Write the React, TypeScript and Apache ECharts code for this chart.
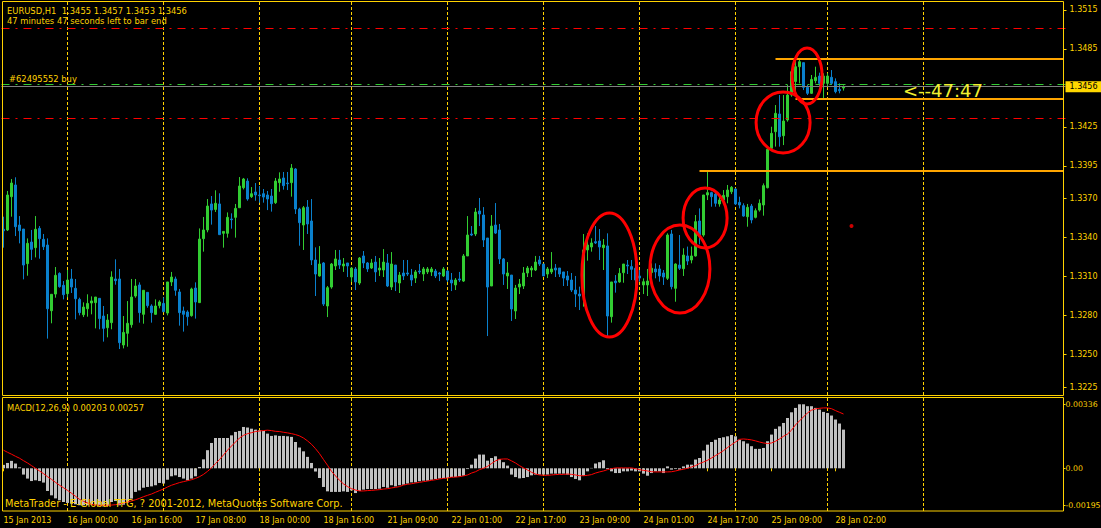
import React, { useEffect, useRef } from "react";
import * as echarts from "echarts";

// ---------- time axis ----------
const sessions = [
  { day: "15 Jan", first: 8, last: 23 },
  { day: "16 Jan", first: 0, last: 23 },
  { day: "17 Jan", first: 0, last: 23 },
  { day: "18 Jan", first: 0, last: 22 },
  { day: "21 Jan", first: 0, last: 23 },
  { day: "22 Jan", first: 0, last: 23 },
  { day: "23 Jan", first: 0, last: 23 },
  { day: "24 Jan", first: 0, last: 23 },
  { day: "25 Jan", first: 0, last: 22 },
  { day: "28 Jan", first: 0, last: 4 },
];
// empty slots of the chart shift (future hours)
const futureSessions = [
  { day: "28 Jan", first: 5, last: 23 },
  { day: "29 Jan", first: 0, last: 23 },
  { day: "30 Jan", first: 0, last: 11 },
];
const timeLabels = [
  "15 Jan 2013", "16 Jan 00:00", "16 Jan 16:00", "17 Jan 08:00", "18 Jan 00:00",
  "18 Jan 16:00", "21 Jan 09:00", "22 Jan 01:00", "22 Jan 17:00", "23 Jan 09:00",
  "24 Jan 01:00", "24 Jan 17:00", "25 Jan 09:00", "28 Jan 02:00",
];
const labelStep = 16;
const dayStartIdx = [16, 40, 64, 87, 111, 135, 159, 183, 206, 230];

// ---------- EURUSD H1 OHLC ----------
const opens = [
  1.33463, 1.33458, 1.33714, 1.33804, 1.33496, 1.33465, 1.33199, 1.33365, 1.33322, 1.33470,
  1.33386, 1.33342, 1.32837, 1.32965, 1.33124, 1.33032, 1.32968, 1.33081, 1.33009, 1.32924,
  1.32806, 1.32852, 1.32896, 1.32899, 1.32932, 1.32796, 1.32706, 1.32745, 1.33081, 1.33081,
  1.32573, 1.32663, 1.32729, 1.32950, 1.33035, 1.32809, 1.32978, 1.32873, 1.32809, 1.32876,
  1.32893, 1.32819, 1.33058, 1.33081, 1.32981, 1.32835, 1.32827, 1.32799, 1.33011, 1.32899,
  1.33391, 1.33458, 1.33658, 1.33616, 1.33658, 1.33432, 1.33432, 1.33542, 1.33555, 1.33629,
  1.33783, 1.33834, 1.33714, 1.33750, 1.33727, 1.33737, 1.33727, 1.33719, 1.33668, 1.33822,
  1.33858, 1.33819, 1.33822, 1.33927, 1.33619, 1.33496, 1.33634, 1.33527, 1.33227, 1.33104,
  1.33204, 1.32873, 1.33019, 1.33181, 1.33227, 1.33181, 1.33204, 1.33096, 1.33158, 1.33050,
  1.33258, 1.33204, 1.33165, 1.33211, 1.33150, 1.33150, 1.33204, 1.33019, 1.33188, 1.33050,
  1.33127, 1.33127, 1.33111, 1.33088, 1.33142, 1.33119, 1.33135, 1.33135, 1.33142, 1.33127,
  1.33104, 1.33142, 1.33073, 1.33035, 1.33081, 1.33065, 1.33258, 1.33427, 1.33427, 1.33604,
  1.33573, 1.33396, 1.33027, 1.33496, 1.33458, 1.33235, 1.33104, 1.33111, 1.32835, 1.33019,
  1.33027, 1.33127, 1.33150, 1.33150, 1.33227, 1.33196, 1.33119, 1.33135, 1.33165, 1.33165,
  1.33135, 1.33104, 1.33073, 1.32996, 1.32965, 1.32950, 1.33304, 1.33327, 1.33368, 1.33373,
  1.33322, 1.33335, 1.32791, 1.33065, 1.33058, 1.33129, 1.33188, 1.33176, 1.33163, 1.33104,
  1.33035, 1.33035, 1.33130, 1.33158, 1.33158, 1.33127, 1.33086, 1.33427, 1.33009, 1.33188,
  1.33160, 1.33258, 1.33227, 1.33258, 1.33527, 1.33419, 1.33727, 1.33745, 1.33734, 1.33658,
  1.33688, 1.33714, 1.33752, 1.33773, 1.33670, 1.33645, 1.33560, 1.33642, 1.33555, 1.33611,
  1.33650, 1.33783, 1.34086, 1.34214, 1.34350, 1.34183, 1.34304, 1.34496, 1.34600, 1.34714,
  1.34745, 1.34555, 1.34509, 1.34606, 1.34642, 1.34586, 1.34586, 1.34632, 1.34599, 1.34539,
  1.34550,
];
const highs = [
  1.33560, 1.33758, 1.33850, 1.33863, 1.33565, 1.33465, 1.33393, 1.33458, 1.33565, 1.33488,
  1.33427, 1.33393, 1.32963, 1.33173, 1.33132, 1.33065, 1.33150, 1.33158, 1.33081, 1.32937,
  1.32901, 1.32963, 1.32947, 1.32942, 1.32932, 1.32873, 1.32811, 1.33140, 1.33232, 1.33158,
  1.32796, 1.32911, 1.33081, 1.33081, 1.33055, 1.32994, 1.32978, 1.32886, 1.32924, 1.32917,
  1.32940, 1.33058, 1.33135, 1.33099, 1.33004, 1.32868, 1.32840, 1.33014, 1.33055, 1.33470,
  1.33558, 1.33696, 1.33719, 1.33763, 1.33740, 1.33447, 1.33593, 1.33586, 1.33658, 1.33865,
  1.33858, 1.33855, 1.33788, 1.33819, 1.33796, 1.33773, 1.33758, 1.33773, 1.33858, 1.33901,
  1.33904, 1.33904, 1.33965, 1.33934, 1.33629, 1.33642, 1.33688, 1.33696, 1.33324, 1.33334,
  1.33211, 1.33027, 1.33204, 1.33304, 1.33304, 1.33242, 1.33204, 1.33173, 1.33173, 1.33250,
  1.33296, 1.33211, 1.33235, 1.33258, 1.33242, 1.33311, 1.33273, 1.33288, 1.33188, 1.33135,
  1.33227, 1.33227, 1.33158, 1.33150, 1.33196, 1.33173, 1.33173, 1.33173, 1.33158, 1.33135,
  1.33173, 1.33150, 1.33127, 1.33088, 1.33135, 1.33273, 1.33565, 1.33488, 1.33627, 1.33704,
  1.33634, 1.33396, 1.33573, 1.33665, 1.33504, 1.33242, 1.33211, 1.33111, 1.33035, 1.33081,
  1.33173, 1.33181, 1.33181, 1.33258, 1.33258, 1.33196, 1.33173, 1.33288, 1.33196, 1.33165,
  1.33135, 1.33142, 1.33127, 1.33104, 1.33022, 1.33427, 1.33432, 1.33394, 1.33488, 1.33465,
  1.33388, 1.33432, 1.33058, 1.33111, 1.33165, 1.33196, 1.33227, 1.33227, 1.33201, 1.33150,
  1.33086, 1.33158, 1.33201, 1.33201, 1.33188, 1.33150, 1.33432, 1.33458, 1.33201, 1.33419,
  1.33317, 1.33330, 1.33330, 1.33573, 1.33624, 1.33727, 1.33919, 1.33752, 1.33752, 1.33714,
  1.33765, 1.33804, 1.33796, 1.33778, 1.33714, 1.33663, 1.33658, 1.33658, 1.33624, 1.33693,
  1.33816, 1.34099, 1.34252, 1.34419, 1.34496, 1.34496, 1.34573, 1.34688, 1.34765, 1.34778,
  1.34745, 1.34573, 1.34650, 1.34714, 1.34668, 1.34663, 1.34663, 1.34688, 1.34624, 1.34586,
  1.34570,
];
const lows = [
  1.33322, 1.33450, 1.33560, 1.33411, 1.33355, 1.33078, 1.33106, 1.33227, 1.33247, 1.33237,
  1.33304, 1.32622, 1.32740, 1.32937, 1.33014, 1.32924, 1.32940, 1.32973, 1.32770, 1.32801,
  1.32788, 1.32791, 1.32809, 1.32701, 1.32694, 1.32599, 1.32632, 1.32694, 1.33037, 1.32542,
  1.32547, 1.32560, 1.32706, 1.32937, 1.32745, 1.32737, 1.32860, 1.32745, 1.32806, 1.32855,
  1.32829, 1.32801, 1.33027, 1.32952, 1.32722, 1.32676, 1.32722, 1.32791, 1.32776, 1.32899,
  1.33291, 1.33440, 1.33499, 1.33596, 1.33422, 1.33322, 1.33399, 1.33468, 1.33399, 1.33629,
  1.33770, 1.33683, 1.33704, 1.33683, 1.33668, 1.33668, 1.33611, 1.33599, 1.33658, 1.33752,
  1.33768, 1.33765, 1.33714, 1.33581, 1.33337, 1.33304, 1.33427, 1.33188, 1.32950, 1.33099,
  1.32873, 1.32788, 1.33006, 1.33150, 1.33158, 1.33135, 1.33096, 1.33058, 1.32996, 1.33035,
  1.33165, 1.33135, 1.33158, 1.33058, 1.33104, 1.33096, 1.33019, 1.32996, 1.32988, 1.32973,
  1.33073, 1.33104, 1.33027, 1.33050, 1.33119, 1.33065, 1.33119, 1.33104, 1.33088, 1.33065,
  1.33096, 1.33058, 1.32988, 1.32996, 1.33058, 1.33058, 1.33258, 1.33411, 1.33411, 1.33488,
  1.33327, 1.32642, 1.33027, 1.33427, 1.33196, 1.33035, 1.33004, 1.32758, 1.32773, 1.32965,
  1.33004, 1.33096, 1.33096, 1.33142, 1.33181, 1.33104, 1.33088, 1.33119, 1.33096, 1.33096,
  1.33027, 1.33027, 1.32981, 1.32865, 1.32842, 1.32868, 1.33222, 1.33291, 1.33350, 1.33227,
  1.33150, 1.32642, 1.32745, 1.32976, 1.33052, 1.33052, 1.33119, 1.33073, 1.33001, 1.33060,
  1.32965, 1.32950, 1.33099, 1.33086, 1.33060, 1.33035, 1.33073, 1.33001, 1.32906, 1.33150,
  1.33104, 1.33188, 1.33201, 1.33253, 1.33347, 1.33406, 1.33688, 1.33637, 1.33637, 1.33637,
  1.33663, 1.33663, 1.33734, 1.33650, 1.33624, 1.33560, 1.33483, 1.33509, 1.33547, 1.33599,
  1.33568, 1.33778, 1.34073, 1.34099, 1.34099, 1.34111, 1.34291, 1.34483, 1.34509, 1.34586,
  1.34534, 1.34496, 1.34504, 1.34586, 1.34560, 1.34470, 1.34560, 1.34573, 1.34509, 1.34509,
  1.34530,
];
const closes = [
  1.33452, 1.33727, 1.33819, 1.33483, 1.33452, 1.33188, 1.33355, 1.33309, 1.33463, 1.33391,
  1.33329, 1.32852, 1.32963, 1.33109, 1.33022, 1.32960, 1.33073, 1.33019, 1.32929, 1.32822,
  1.32865, 1.32893, 1.32912, 1.32942, 1.32776, 1.32701, 1.32765, 1.33096, 1.33068, 1.32591,
  1.32670, 1.32740, 1.32942, 1.33027, 1.32822, 1.32994, 1.32876, 1.32822, 1.32873, 1.32904,
  1.32829, 1.33058, 1.33096, 1.32994, 1.32822, 1.32809, 1.32791, 1.33004, 1.32904, 1.33388,
  1.33458, 1.33642, 1.33611, 1.33663, 1.33422, 1.33447, 1.33555, 1.33537, 1.33624, 1.33796,
  1.33850, 1.33696, 1.33737, 1.33727, 1.33722, 1.33711, 1.33696, 1.33660, 1.33834, 1.33850,
  1.33799, 1.33814, 1.33934, 1.33619, 1.33514, 1.33629, 1.33504, 1.33227, 1.33119, 1.33196,
  1.32888, 1.33014, 1.33196, 1.33235, 1.33188, 1.33196, 1.33181, 1.33165, 1.33058, 1.33242,
  1.33204, 1.33158, 1.33204, 1.33135, 1.33165, 1.33211, 1.33027, 1.33196, 1.33058, 1.33111,
  1.33104, 1.33119, 1.33073, 1.33135, 1.33135, 1.33158, 1.33158, 1.33158, 1.33104, 1.33119,
  1.33158, 1.33073, 1.33050, 1.33073, 1.33073, 1.33258, 1.33419, 1.33419, 1.33596, 1.33581,
  1.33381, 1.33019, 1.33488, 1.33434, 1.33235, 1.33119, 1.33127, 1.32850, 1.33011, 1.33042,
  1.33127, 1.33165, 1.33165, 1.33211, 1.33196, 1.33104, 1.33158, 1.33158, 1.33150, 1.33119,
  1.33088, 1.33073, 1.32996, 1.32965, 1.32950, 1.33304, 1.33342, 1.33358, 1.33358, 1.33327,
  1.33342, 1.32796, 1.33058, 1.33052, 1.33124, 1.33196, 1.33181, 1.33155, 1.33073, 1.33088,
  1.33060, 1.33065, 1.33163, 1.33135, 1.33104, 1.33096, 1.33419, 1.33022, 1.33196, 1.33163,
  1.33265, 1.33219, 1.33258, 1.33522, 1.33419, 1.33727, 1.33745, 1.33714, 1.33663, 1.33688,
  1.33724, 1.33765, 1.33786, 1.33658, 1.33650, 1.33565, 1.33632, 1.33535, 1.33606, 1.33663,
  1.33799, 1.34078, 1.34201, 1.34355, 1.34175, 1.34296, 1.34496, 1.34675, 1.34714, 1.34752,
  1.34555, 1.34509, 1.34616, 1.34632, 1.34586, 1.34642, 1.34642, 1.34586, 1.34522, 1.34529,
  1.34560,
];

// ---------- MACD(12,26,9) ----------
const macdMain = [
  0.00018, 0.00028, 0.00039, 0.00025, 0.00005, -0.00033, -0.00054, -0.00067, -0.00063, -0.00067,
  -0.00075, -0.00119, -0.00142, -0.00158, -0.00168, -0.00177, -0.00182, -0.00186, -0.00189, -0.00194,
  -0.00194, -0.00194, -0.00191, -0.00191, -0.00194, -0.002, -0.00198, -0.00177, -0.00172, -0.00194,
  -0.00191, -0.0018, -0.00159, -0.00124, -0.00116, -0.00102, -0.00098, -0.00095, -0.00089, -0.00077,
  -0.0008, -0.0006, -0.00042, -0.00037, -0.00046, -0.00054, -0.00063, -0.00054, -0.00042, 0.00007,
  0.00047, 0.00095, 0.00133, 0.00159, 0.00159, 0.00159, 0.00159, 0.00173, 0.00191, 0.00196,
  0.00217, 0.00214, 0.00208, 0.00203, 0.002, 0.00196, 0.00182, 0.0017, 0.00173, 0.0017,
  0.0017, 0.00168, 0.00165, 0.00138, 0.00109, 0.00089, 0.0006, 0.00028, -0.00017, -0.00051,
  -0.00098, -0.00121, -0.00124, -0.00124, -0.00124, -0.00121, -0.00124, -0.00116, -0.0013, -0.00119,
  -0.00112, -0.00109, -0.00109, -0.00109, -0.00107, -0.00098, -0.00102, -0.00089, -0.00095, -0.00089,
  -0.00086, -0.0008, -0.00074, -0.00074, -0.00068, -0.00065, -0.00065, -0.0006, -0.00056, -0.00054,
  -0.00051, -0.00051, -0.00046, -0.00046, -0.00042, -0.00039, -0.00004, 0.00019, 0.00051, 0.00072,
  0.00072, 0.0004, 0.00054, 0.00063, 0.00049, 0.00032, 0.00014, -0.00033, -0.00046, -0.00053,
  -0.00051, -0.00046, -0.00037, -0.00033, -0.00033, -0.00033, -0.00033, -0.00028, -0.00028, -0.00028,
  -0.00028, -0.00033, -0.00046, -0.00056, -0.00063, -0.00039, -0.00016, 0.00002, 0.00025, 0.00032,
  0.00042, -0.00004, -0.00016, -0.00025, -0.00025, -0.00016, -0.00016, -0.00012, -0.00016, -0.00016,
  -0.00028, -0.00039, -0.00025, -0.00016, -0.00016, -0.00025, 0.0001, -0.00007, -0.00004, -0.00007,
  0.0001, 0.00019, 0.00019, 0.00046, 0.00054, 0.00093, 0.00124, 0.00138, 0.0015, 0.00159,
  0.00163, 0.00168, 0.00175, 0.00168, 0.0015, 0.00142, 0.0013, 0.00116, 0.00102, 0.00102,
  0.00107, 0.00142, 0.00177, 0.00207, 0.0022, 0.00238, 0.00264, 0.00294, 0.00317, 0.00336,
  0.00336, 0.00326, 0.00326, 0.00317, 0.00308, 0.00296, 0.0029, 0.00277, 0.00256, 0.00235,
  0.00203,
];
const macdSignal = [
  0.00095, 0.00084, 0.00074, 0.00063, 0.00053, 0.0004, 0.00028, 0.00014, 0, -0.00014,
  -0.00028, -0.00044, -0.00058, -0.00074, -0.00089, -0.00102, -0.00116, -0.00131, -0.00147, -0.00163,
  -0.00173, -0.00182, -0.00189, -0.00193, -0.00194, -0.00194, -0.00194, -0.00193, -0.00191, -0.00187,
  -0.00182, -0.00177, -0.00172, -0.00165, -0.00158, -0.00149, -0.00142, -0.00135, -0.00126, -0.00117,
  -0.00109, -0.00098, -0.00089, -0.00082, -0.00075, -0.0007, -0.00065, -0.0006, -0.00053, -0.00044,
  -0.00032, -0.00016, 0.00002, 0.00025, 0.00046, 0.0007, 0.00095, 0.00117, 0.00138, 0.00159,
  0.00173, 0.00182, 0.00187, 0.00193, 0.00196, 0.00198, 0.002, 0.00198, 0.00194, 0.00193,
  0.00189, 0.00186, 0.00182, 0.00177, 0.0017, 0.00159, 0.00144, 0.00126, 0.00103, 0.00077,
  0.00046, 0.00016, -0.00016, -0.0004, -0.00063, -0.00082, -0.00096, -0.00107, -0.00114, -0.00119,
  -0.00119, -0.00117, -0.00116, -0.00114, -0.00112, -0.00109, -0.00107, -0.00103, -0.001, -0.00096,
  -0.00088, -0.00084, -0.00081, -0.00077, -0.00074, -0.0007, -0.00067, -0.00063, -0.0006, -0.00056,
  -0.00053, -0.00051, -0.00047, -0.00046, -0.00044, -0.0004, -0.00035, -0.00025, -0.00018, -0.00007,
  0, 0.0001, 0.00025, 0.00039, 0.00047, 0.00049, 0.00049, 0.00039, 0.00028, 0.00014,
  0.00002, -0.00009, -0.00021, -0.0003, -0.00035, -0.00037, -0.00037, -0.00035, -0.00033, -0.00032,
  -0.00032, -0.0003, -0.00032, -0.00035, -0.00039, -0.00039, -0.00037, -0.00033, -0.00025, -0.00019,
  -0.00014, -0.00007, -0.00002, 0.00002, 0.00002, 0.00002, 0.00002, 0.00002, -0.00002, -0.00007,
  -0.00011, -0.00014, -0.00018, -0.00019, -0.00019, -0.00019, -0.00019, -0.00018, -0.00014, -0.00009,
  -0.00005, 0, 0.00007, 0.00014, 0.00025, 0.00033, 0.00042, 0.00054, 0.00067, 0.00079,
  0.00093, 0.00109, 0.00124, 0.00138, 0.00152, 0.00154, 0.00152, 0.00149, 0.00144, 0.00138,
  0.00133, 0.0013, 0.00133, 0.00142, 0.00154, 0.00168, 0.0018, 0.002, 0.00228, 0.00249,
  0.0027, 0.00291, 0.00305, 0.00312, 0.00315, 0.00317, 0.00317, 0.00313, 0.00303, 0.00294,
  0.00285,
];

// ---------- axis ticks ----------
const priceTicks = [1.3515, 1.3485, 1.3425, 1.3395, 1.337, 1.334, 1.331, 1.328, 1.325, 1.3225];
const macdTicks = [0.00336, 0, -0.00195];
const priceMin = 1.321885;
const priceMax = 1.352115;
const macdMin = -0.002242;
const macdMax = 0.003743;

// ---------- chart objects ----------
const redLevels = [1.35008, 1.34317];
const orderLevel = 1.34578;
const bidPrice = 1.3456;
const orangeLevels = [
  { fromBar: 174, price: 1.33912 },
  { fromBar: 193, price: 1.34773 },
  { fromBar: 198, price: 1.34468 },
];
const lastSlot = 265;
const ellipses = [
  { bar: 151.5, price: 1.33112, halfBars: 6.9, halfPrice: 0.00477 },
  { bar: 169.1, price: 1.33158, halfBars: 7.5, halfPrice: 0.00338 },
  { bar: 175.4, price: 1.3355, halfBars: 5.5, halfPrice: 0.00231 },
  { bar: 194.9, price: 1.34285, halfBars: 6.75, halfPrice: 0.00235 },
  { bar: 200.9, price: 1.34642, halfBars: 3.75, halfPrice: 0.00215 },
];
const redDot = [212, 1.33488];

const FG = "#FFD200";
const FONT = '"DejaVu Sans", sans-serif';
const BULL = "#32CD32";
const BEAR = "#0A80CC";

function buildCategories() {
  const out: string[] = [];
  const pad = (h: number) => (h < 10 ? "0" + h : "" + h) + ":00";
  for (const s of [...sessions, ...futureSessions]) {
    for (let h = s.first; h <= s.last; h++) out.push(s.day + " " + pad(h));
  }
  return out;
}

export default function App() {
  const ref = useRef<HTMLDivElement>(null);
  useEffect(() => {
    document.body.style.margin = "0";
    document.body.style.background = "#000";
    const chart = echarts.init(ref.current!, null, { renderer: "svg", width: 1101, height: 528 });
    const categories = buildCategories();
    const isLabel = (i: number) => i % labelStep === 0 && i / labelStep < timeLabels.length;
    const dashDot = [8, 6, 2, 6];

    const texts: any[] = [
      { type: "text", id: "t1", x: 7, y: 10.5, z: 20, style: { text: "EURUSD,H1  1.3455 1.3457 1.3453 1.3456", fill: FG, font: '8.4px "DejaVu Sans"', verticalAlign: "middle", textVerticalAlign: "middle" } },
      { type: "text", id: "t2", x: 7, y: 20.5, z: 20, style: { text: "47 minutes 47 seconds left to bar end", fill: FG, font: '8.4px "DejaVu Sans"', verticalAlign: "middle", textVerticalAlign: "middle" } },
      { type: "text", id: "t3", x: 9, y: 78.5, z: 20, style: { text: "#62495552 buy", fill: FG, font: '8.4px "DejaVu Sans"', verticalAlign: "middle", textVerticalAlign: "middle" } },
      { type: "text", id: "t4", x: 903, y: 90.5, z: 20, style: { text: "<--47:47", fill: "#F0F030", font: '18px "DejaVu Sans"', verticalAlign: "middle", textVerticalAlign: "middle" } },
      { type: "text", id: "t5", x: 7, y: 407.5, z: 20, style: { text: "MACD(12,26,9) 0.00203 0.00257", fill: FG, font: '8.3px "DejaVu Sans"', verticalAlign: "middle", textVerticalAlign: "middle" } },
      { type: "text", id: "t6", x: 5, y: 503.5, z: 20, style: { text: "MetaTrader - E-Global TFG, ? 2001-2012, MetaQuotes Software Corp.", fill: FG, font: '9.8px "DejaVu Sans"', verticalAlign: "middle", textVerticalAlign: "middle" } },
      { type: "rect", id: "f1", z: 15, shape: { x: 2.5, y: 1.5, width: 1061, height: 394 }, style: { fill: "none", stroke: FG, lineWidth: 1 } },
      { type: "rect", id: "f2", z: 15, shape: { x: 2.5, y: 397.5, width: 1061, height: 113.5 }, style: { fill: "none", stroke: FG, lineWidth: 1 } },
    ];

    const hLine = (price: number, color: string, type: any, width = 1) => ({ yAxis: price, lineStyle: { color, type, width } });

    const option: any = {
      animation: false,
      backgroundColor: "#000000",
      grid: [
        { left: 1.5, top: 2, width: 1064, height: 393, containLabel: false, outerBoundsMode: "none" },
        { left: 1.5, top: 397, width: 1064, height: 114, containLabel: false, outerBoundsMode: "none" },
      ],
      xAxis: [
        {
          type: "category", gridIndex: 0, data: categories, boundaryGap: true,
          axisLine: { show: false }, axisTick: { show: false }, axisLabel: { show: false }, splitLine: { show: false },
        },
        {
          type: "category", gridIndex: 1, data: categories, boundaryGap: true,
          axisLine: { show: false }, splitLine: { show: false },
          axisTick: { show: true, alignWithLabel: true, interval: (i: number) => isLabel(i), length: 3, lineStyle: { color: FG } },
          axisLabel: {
            show: true, interval: (i: number) => isLabel(i),
            formatter: (_v: string, i: number) => timeLabels[i / labelStep] ?? "",
            align: "left", color: FG, fontSize: 8, fontFamily: FONT, margin: 5,
          },
        },
      ],
      yAxis: [
        {
          type: "value", gridIndex: 0, position: "right", offset: -2, min: priceMin, max: priceMax,
          axisLine: { show: false }, splitLine: { show: false },
          axisTick: { show: true, customValues: priceTicks, length: 3, lineStyle: { color: FG } },
          axisLabel: { customValues: priceTicks, formatter: (v: number) => v.toFixed(4), color: FG, fontSize: 8, fontFamily: FONT, margin: 6 },
        },
        {
          type: "value", gridIndex: 1, position: "right", offset: -2, min: macdMin, max: macdMax,
          axisLine: { show: false }, splitLine: { show: false },
          axisTick: { show: true, customValues: macdTicks, length: 2, lineStyle: { color: FG } },
          axisLabel: { customValues: macdTicks, formatter: (v: number) => (v === 0 ? "0.00" : v.toFixed(5)), color: FG, fontSize: 7.8, fontFamily: FONT, margin: 2 },
        },
      ],
      series: [
        {
          type: "line", xAxisIndex: 0, yAxisIndex: 0, data: [], silent: true,
          markLine: {
            z: 1, silent: true, symbol: ["none", "none"], label: { show: false }, animation: false,
            lineStyle: { color: FG, type: [3, 2], width: 1 },
            data: dayStartIdx.map((i) => ({ xAxis: i })),
          },
        },
        {
          type: "candlestick", xAxisIndex: 0, yAxisIndex: 0, barWidth: 2,
          data: opens.map((o, i) => [o, closes[i], lows[i], highs[i]]),
          itemStyle: { color: BULL, color0: BEAR, borderColor: BULL, borderColor0: BEAR, borderWidth: 1 },
          markLine: {
            silent: true, symbol: ["none", "none"], label: { show: false }, animation: false, precision: 6,
            data: [
              hLine(redLevels[0], "#FF0000", dashDot),
              hLine(redLevels[1], "#FF0000", dashDot),
              hLine(orderLevel, "#32CD32", dashDot),
              {
                ...hLine(bidPrice, "#808080", "solid"),
                label: {
                  show: true, position: "end", distance: 0, formatter: () => bidPrice.toFixed(4),
                  color: "#000000", backgroundColor: "#FFD700", padding: [2, 4, 1, 4],
                  fontSize: 8, fontFamily: FONT,
                },
              },
              ...orangeLevels.map((o) => [
                { coord: [o.fromBar, o.price], lineStyle: { color: "#FFA500", width: 2, type: "solid" } },
                { coord: [lastSlot, o.price], lineStyle: { color: "#FFA500", width: 2, type: "solid" } },
              ]),
            ],
          },
        },
        {
          type: "scatter", xAxisIndex: 0, yAxisIndex: 0, data: [redDot], symbolSize: 4,
          itemStyle: { color: "#FF0000" }, silent: true,
        },
        {
          type: "bar", xAxisIndex: 1, yAxisIndex: 1, data: macdMain, barWidth: 3,
          itemStyle: { color: "#C0C0C0" }, silent: true,
          markLine: {
            z: 1, silent: true, symbol: ["none", "none"], label: { show: false }, animation: false,
            lineStyle: { color: FG, type: [3, 2], width: 1 },
            data: dayStartIdx.map((i) => ({ xAxis: i })),
          },
        },
        {
          type: "line", xAxisIndex: 1, yAxisIndex: 1, data: macdSignal, showSymbol: false, symbol: "none",
          lineStyle: { color: "#FF0000", width: 1 }, z: 3, silent: true,
        },
      ],
      graphic: texts,
    };
    chart.setOption(option);

    // ellipses placed through the chart's own scales
    const toPx = (i: number, p: number) => chart.convertToPixel({ gridIndex: 0 }, [i, p]) as number[];
    const a = toPx(0, ellipses[0].price);
    const b = toPx(1, ellipses[0].price);
    const step = b[0] - a[0];
    const ellEls = ellipses.map((e, k) => {
      const base = toPx(0, e.price);
      const top = toPx(0, e.price + e.halfPrice);
      return {
        type: "ellipse", id: "ell" + k, z: 30, silent: true,
        shape: { cx: base[0] + e.bar * step, cy: base[1], rx: e.halfBars * step, ry: Math.abs(base[1] - top[1]) },
        style: { fill: "none", stroke: "#FF0000", lineWidth: 3 },
      };
    });
    chart.setOption({ graphic: [...texts, ...ellEls] }, { replaceMerge: ["graphic"] });

    return () => chart.dispose();
  }, []);
  return <div ref={ref} style={{ position: "fixed", left: 0, top: 0, width: 1101, height: 528 }} />;
}
